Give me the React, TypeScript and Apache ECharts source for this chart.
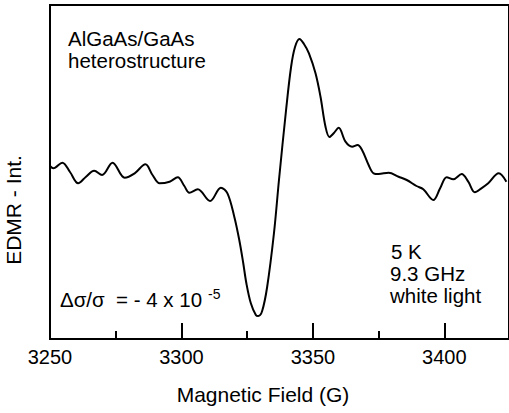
import React, { useEffect, useRef } from "react";
import * as echarts from "echarts";

const fieldG = [
  3250.0, 3251.3, 3254.7, 3257.6, 3260.7, 3263.6, 3266.8, 3269.8, 3273.8, 3278.4,
  3282.2, 3286.3, 3289.0, 3291.7, 3295.5, 3298.6, 3301.1, 3303.0, 3306.2, 3310.9,
  3315.0, 3317.5, 3320.1, 3322.0, 3323.5, 3324.7, 3326.4, 3328.3, 3329.2, 3330.7,
  3332.6, 3335.2, 3337.1, 3339.8, 3341.7, 3343.2, 3344.9, 3346.6, 3348.5, 3351.0,
  3352.9, 3354.8, 3356.3, 3358.0, 3359.8, 3362.4, 3364.9, 3367.0, 3368.7, 3371.2,
  3373.1, 3375.0, 3378.8, 3382.6, 3385.7, 3389.4, 3392.0, 3395.8, 3398.4, 3400.9,
  3403.4, 3406.6, 3409.1, 3411.6, 3414.1, 3416.7, 3420.7, 3423.6,
];

const edmr = [
  173, 170.7, 176.3, 167, 155.7, 162, 168.3, 164, 176.3, 161.3,
  165.7, 174.7, 164, 155.7, 157.3, 161.7, 153, 146.3, 149.7, 138,
  151.3, 145.7, 122.3, 99, 76, 55.7, 35.7, 24, 23, 28,
  52, 106, 159, 229, 272, 292, 300, 295, 285.7, 265.7,
  242.3, 212.3, 202, 206, 211.3, 197.3, 192.3, 194, 189, 174,
  165.7, 165, 166.3, 162.3, 159, 153, 149.7, 139, 150.7, 161.7,
  159.7, 165, 157.3, 146.7, 150.7, 155.7, 165.7, 157.3,
];

const xMin = 3250;
const xMax = 3424.6;
const majorStep = 50;
const minorStep = 25;

const xTitle = "Magnetic Field (G)";
const yTitle = "EDMR - Int.";
const sampleLines = ["AlGaAs/GaAs", "heterostructure"];
const condLines = ["5 K", "9.3 GHz", "white light"];
const ratioText = "\u0394\u03c3/\u03c3  = - 4 x 10";
const ratioExp = "-5";

const FONT = '"Liberation Sans", Arial, Helvetica, sans-serif';

export default function App() {
  const ref = useRef<HTMLDivElement>(null);

  useEffect(() => {
    document.body.style.margin = "0";
    if (!ref.current) return;
    const chart = echarts.init(ref.current, undefined, { renderer: "svg" });

    const txt = (text: string, x: number, y: number, size = 20.5, align = "left", extra: any = {}) => ({
      type: "text",
      x,
      y,
      ...extra,
      style: {
        text,
        fill: "#000",
        fontSize: size,
        fontFamily: FONT,
        align,
        verticalAlign: "middle",
      },
    });

    chart.setOption({
      animation: false,
      backgroundColor: "#fff",
      grid: {
        left: 50,
        top: 5,
        right: -2,
        bottom: 74,
        show: true,
        borderColor: "#000",
        borderWidth: 2,
      },
      xAxis: [
        {
          type: "value",
          min: xMin,
          max: xMax,
          interval: majorStep,
          axisLine: { show: true, lineStyle: { color: "#000", width: 2 } },
          axisTick: { show: true, inside: true, length: 16, lineStyle: { color: "#000", width: 2 } },
          axisLabel: {
            show: true,
            margin: 8,
            color: "#000",
            fontSize: 20,
            fontFamily: FONT,
            showMaxLabel: false,
            formatter: (v: number) => (v % majorStep === 0 ? String(v) : ""),
          },
          splitLine: { show: false },
        },
        {
          type: "value",
          min: xMin,
          max: xMax,
          interval: minorStep,
          position: "bottom",
          axisLine: { show: false },
          axisTick: { show: true, inside: true, length: 8, lineStyle: { color: "#000", width: 2 } },
          axisLabel: { show: false },
          splitLine: { show: false },
        },
      ],
      yAxis: {
        type: "value",
        min: 0,
        max: 334,
        axisLine: { show: true, lineStyle: { color: "#000", width: 2 } },
        axisTick: { show: false },
        axisLabel: { show: false },
        splitLine: { show: false },
      },
      series: [
        {
          type: "line",
          xAxisIndex: 0,
          data: fieldG.map((g, i) => [g, edmr[i]]),
          showSymbol: false,
          smooth: 0.35,
          lineStyle: { color: "#000", width: 2 },
        },
      ],
      graphic: [
        txt(sampleLines[0], 68, 38),
        txt(sampleLines[1], 68, 60),
        txt(condLines[0], 391, 251),
        txt(condLines[1], 390, 273),
        txt(condLines[2], 390, 295),
        txt(ratioText, 60, 299),
        txt(ratioExp, 208, 294, 14),
        txt(xTitle, 263, 394, 21, "center"),
        txt(yTitle, 13, 210, 21, "center", { rotation: Math.PI / 2 }),
      ],
    });

    return () => chart.dispose();
  }, []);

  return <div ref={ref} style={{ width: 509, height: 413 }} />;
}
